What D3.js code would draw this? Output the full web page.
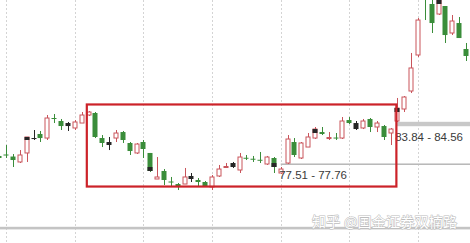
<!DOCTYPE html>
<html><head><meta charset="utf-8">
<script src="https://cdn.jsdelivr.net/npm/d3@7"></script>
<style>html,body{margin:0;padding:0;background:#fff;}svg{display:block;}</style>
</head><body>
<script>
// ---- data (prices) ----
const openP  = [78.98,79.22,78.89,78.00,79.47,81.91,82.57,81.91,85.18,84.69,84.36,83.55,84.36,85.67,86.00,81.91,81.26,81.91,82.89,81.10,79.47,81.26,79.47,75.22,76.53,74.81,74.40,74.40,75.71,75.06,74.73,73.91,75.71,77.14,77.83,76.69,78.69,78.53,78.36,77.67,78.65,76.20,77.83,81.26,78.65,80.44,81.91,82.89,81.87,81.99,81.91,84.85,84.36,83.55,85.02,83.71,83.87,82.73,84.69,86.65,89.59,95.47,107.72,103.80,102.16,103.47,99.06,100.69,96.45];
const highP  = [79.30,80.77,79.30,79.95,82.08,83.22,83.06,85.67,85.83,85.02,84.53,84.85,86.16,86.32,86.16,82.40,82.08,83.22,83.06,81.26,81.10,81.59,79.47,78.81,76.85,75.55,74.57,77.02,76.20,75.38,74.89,75.87,77.51,77.83,78.00,79.47,79.14,78.98,79.63,78.98,78.81,77.18,82.40,81.91,81.26,82.73,83.71,83.71,82.89,82.73,85.34,85.34,84.69,85.02,85.18,84.69,84.04,83.55,88.45,88.77,95.80,101.51,108.50,105.27,104.94,103.47,102.00,101.67,97.43];
const lowP   = [78.32,78.65,77.18,77.83,78.00,81.59,81.26,81.59,84.36,83.22,83.06,83.22,84.36,85.51,81.91,80.44,79.95,81.26,81.10,79.14,79.30,78.65,76.36,75.22,74.24,74.08,73.42,74.40,74.73,74.08,73.91,73.42,75.55,77.02,77.02,76.20,78.32,78.00,77.83,77.51,76.20,76.04,77.67,78.81,78.49,80.44,81.75,82.40,81.59,81.59,81.75,84.20,83.22,83.38,82.89,82.89,81.59,80.77,84.53,86.16,89.26,95.14,101.18,99.06,102.00,97.43,98.73,98.24,94.49];
const closeP = [78.65,79.06,78.32,79.14,82.08,81.83,81.91,85.18,85.02,83.87,83.87,84.53,85.67,86.16,82.08,81.10,80.77,82.73,81.59,79.79,80.93,80.12,76.53,75.55,75.06,74.65,73.91,75.55,75.22,74.73,74.08,75.55,76.85,77.26,77.18,78.81,78.57,78.41,78.24,78.81,77.18,76.85,81.75,79.14,81.10,82.08,83.38,82.57,81.99,81.87,84.69,84.36,83.38,84.69,83.71,84.36,82.08,83.38,86.81,88.61,93.35,101.18,104.94,100.69,104.45,98.73,101.02,98.24,95.31];
const blackIdx = [5,10,16,28,34,52];
// dark segments drawn over part of some bodies
const darkIdx = [4, 22, 40, 46, 58, 64];
const darkHi  = [82.08, 77.18, 77.83, 83.38, 86.81, 104.45];
const darkLo  = [81.59, 76.53, 77.18, 82.73, 86.16, 103.80];
const gridIdx = [1,11,21,31,41,51,61];
const levelLow   = [83.84, 77.51];
const levelHigh  = [84.56, 77.76];
const levelStart = [57.9, 41];
const levelLabels = ["83.84 - 84.56", "77.51 - 77.76"];
const boxIdx = [12.75, 57.85];
const boxPrice = [73.99, 87.39];
const watermark = "知乎 @国金证券双楠路";

const W = 470, H = 243;
const svg = d3.select("body").append("svg").attr("width", W).attr("height", H);
svg.append("rect").attr("width", W).attr("height", H).attr("fill", "#fff");

const x = d3.scaleLinear().domain([0, 68]).range([-0.7, 466.05]);
const y = d3.scaleLinear().domain([64.77, 104.45]).range([243, 0]);

// vertical dotted gridlines
svg.append("g").selectAll("line").data(gridIdx).join("line")
  .attr("x1", d => Math.round(x(d)) + 0.5).attr("x2", d => Math.round(x(d)) + 0.5)
  .attr("y1", 0).attr("y2", H)
  .attr("stroke", "#d4d4d4").attr("stroke-width", 1).attr("stroke-dasharray", "2,2");

// bottom border
svg.append("rect").attr("x", 0).attr("y", 226.8).attr("width", W).attr("height", 2.6).attr("fill", "#c4c4c4");

// level bands
const levels = levelLow.map((v, i) => ({lo: v, hi: levelHigh[i], s: levelStart[i], label: levelLabels[i]}));
svg.append("g").selectAll("rect").data(levels).join("rect")
  .attr("x", d => x(d.s)).attr("width", d => W - x(d.s))
  .attr("y", d => y(d.hi)).attr("height", d => Math.max(1.2, y(d.lo) - y(d.hi)))
  .attr("fill", (d, i) => i === 0 ? "#c8c8c8" : "#b8b8b8");

// candles
const data = openP.map((o, i) => ({i, o, h: highP[i], l: lowP[i], c: closeP[i], black: blackIdx.includes(i)}));
const up = "#c9545b", down = "#3a8d3a", blk = "#262626";
const col = d => d.black ? blk : (d.c >= d.o ? up : down);
const bw = 5;
const g = svg.append("g");
g.selectAll("line.w").data(data).join("line").attr("class", "w")
  .attr("x1", d => Math.round(x(d.i)) + 0.5).attr("x2", d => Math.round(x(d.i)) + 0.5)
  .attr("y1", d => y(d.h)).attr("y2", d => y(d.l))
  .attr("stroke", col).attr("stroke-width", 1);
g.selectAll("rect.b").data(data).join("rect").attr("class", "b")
  .attr("x", d => Math.round(x(d.i)) - 2 + (d.c >= d.o && !d.black ? 0 : -0.5))
  .attr("width", d => (d.c >= d.o && !d.black) ? bw - 1 : bw)
  .attr("y", d => y(Math.max(d.o, d.c)))
  .attr("height", d => Math.max(1, Math.abs(y(d.o) - y(d.c))))
  .attr("fill", d => (d.c >= d.o && !d.black) ? "#fff" : col(d))
  .attr("stroke", d => (d.c >= d.o && !d.black) ? up : "none")
  .attr("stroke-width", 1);
// dark segments
const darks = darkIdx.map((idx, k) => ({i: idx, hi: darkHi[k], lo: darkLo[k]}));
g.selectAll("rect.d").data(darks).join("rect").attr("class", "d")
  .attr("x", d => Math.round(x(d.i)) - 2.5).attr("width", bw)
  .attr("y", d => y(d.hi)).attr("height", d => y(d.lo) - y(d.hi))
  .attr("fill", blk);

// level labels
svg.append("g").selectAll("text").data(levels).join("text")
  .attr("x", d => x(d.s) - 1.5).attr("y", d => y(d.lo) + 14.5)
  .attr("font-family", "Liberation Sans, Arial, sans-serif").attr("font-size", 11.5)
  .attr("fill", "#3a3a3a").text(d => d.label);

// highlight box
svg.append("rect")
  .attr("x", x(boxIdx[0])).attr("y", y(boxPrice[1]))
  .attr("width", x(boxIdx[1]) - x(boxIdx[0])).attr("height", y(boxPrice[0]) - y(boxPrice[1]))
  .attr("fill", "none").attr("stroke", "#cc2229").attr("stroke-width", 2.2);

// watermark
svg.append("text").attr("x", 312).attr("y", 227)
  .attr("font-family", "Noto Sans CJK SC, sans-serif").attr("font-size", 14)
  .attr("fill", "#fff").attr("stroke", "#bdbdbd").attr("stroke-width", 1.1)
  .attr("paint-order", "stroke").attr("textLength", 145).text(watermark);
</script>
</body></html>
